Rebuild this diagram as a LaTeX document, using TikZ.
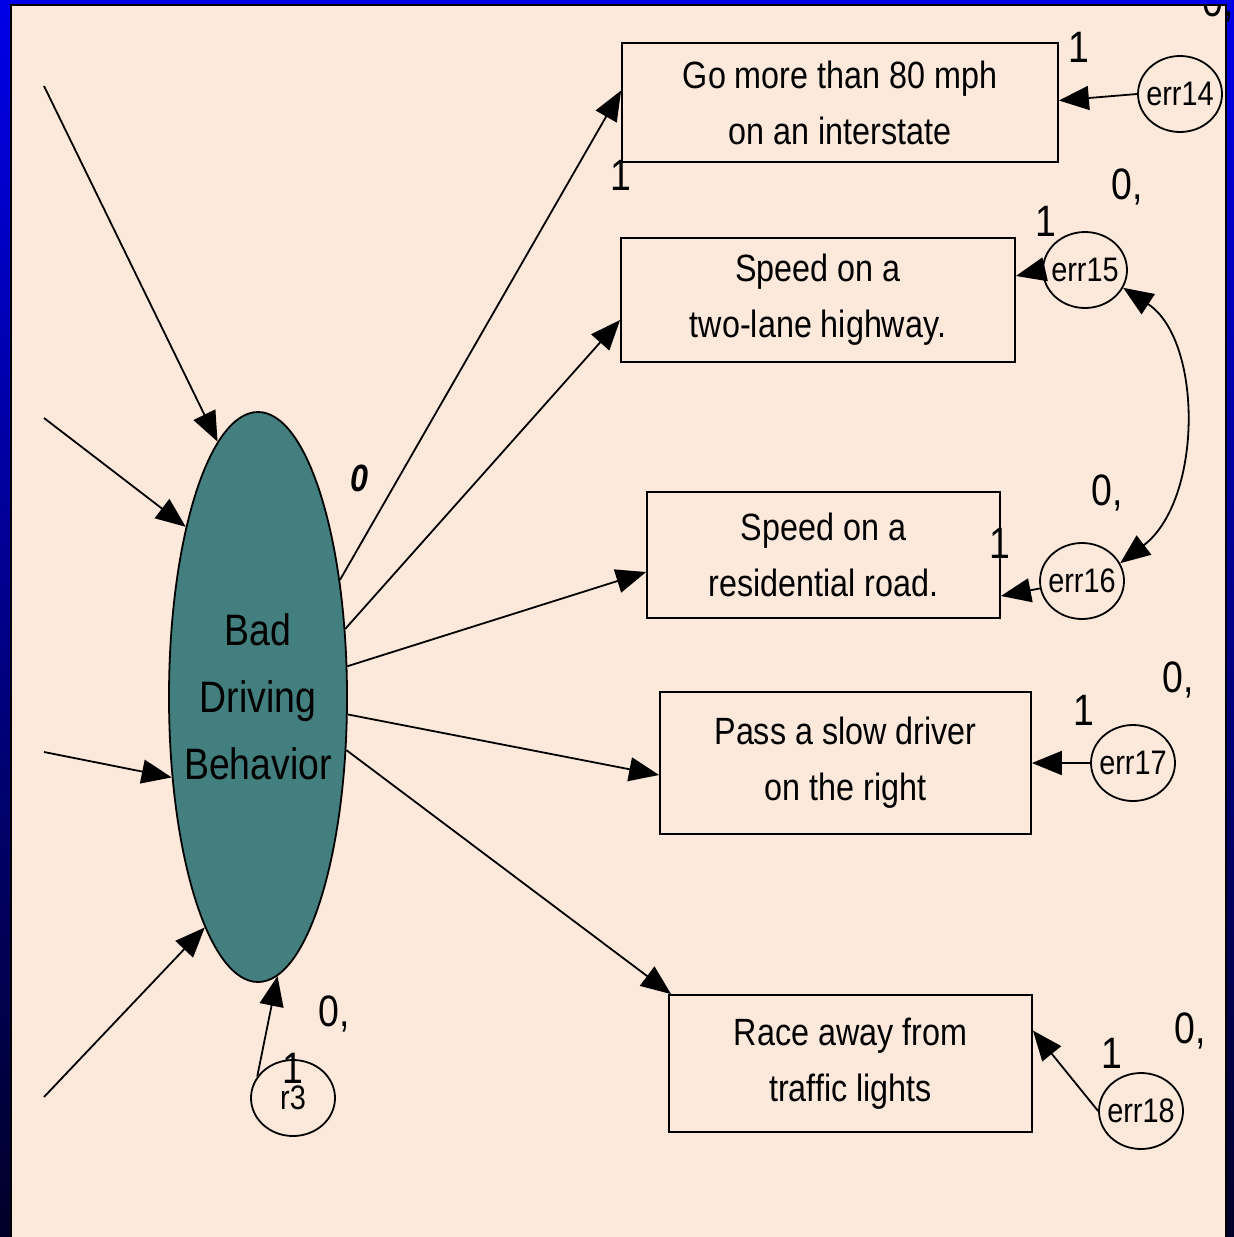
\documentclass[tikz,border=0pt]{standalone}
\usepackage{fontspec}
\setmainfont{Liberation Sans}[FakeStretch=0.85]
\usetikzlibrary{shapes.geometric,arrows.meta,calc}
\definecolor{peach}{RGB}{252,233,219}
\definecolor{teal}{RGB}{66,127,126}
\definecolor{topblue}{RGB}{0,0,232}
\definecolor{botblue}{RGB}{0,0,40}
\tikzset{
  box/.style={draw,line width=1.8pt,fill=peach,inner sep=0pt,align=center,
    font=\fontsize{38}{56}\selectfont},
  errnode/.style={draw,ellipse,line width=1.8pt,fill=peach,inner sep=0pt,
    minimum width=84pt,minimum height=76pt},
  errtext/.style={inner sep=0pt,font=\fontsize{34}{34}\selectfont},
  lab/.style={font=\fontsize{44}{44}\selectfont,inner sep=0pt},
  conn/.style={line width=1.8pt,-{Triangle[length=30pt,width=24pt]}},
}
\begin{document}
\begin{tikzpicture}[x=1pt,y=-1pt]
\useasboundingbox (0,0) rectangle (1234,1237);
% background and frame
\fill[peach] (0,0) rectangle (1234,1237);
\shade[top color=topblue,bottom color=botblue] (0,0) rectangle (10,1237);
\shade[top color=topblue,bottom color=botblue] (1227,0) rectangle (1234,1237);
\draw[line width=1.8pt] (11,1237) -- (11,5) -- (1226,5) -- (1226,1237);
% clipped top label
\node[lab] (ltop) at (1218,4) {0,};
\fill[topblue] (0,0) rectangle (1234,4);

% latent
\node[draw,ellipse,line width=1.8pt,fill=teal,minimum width=178pt,minimum height=570pt,
  inner sep=0pt] (bdb) at (258,697) {};
\node[inner sep=0pt,align=center,font=\fontsize{44}{67}\selectfont] (bdbt) at (bdb.center)
  {Bad\\Driving\\Behavior};

% boxes
\node[box,minimum width=436pt,minimum height=119pt] (b1) at (840,102.5) {Go more than 80 mph\\on an interstate};
\node[box,minimum width=394pt,minimum height=124pt] (b2) at (818,300) {Speed on a\\two-lane highway.};
\node[box,minimum width=353pt,minimum height=126pt] (b3) at (823.5,555) {Speed on a\\residential road.};
\node[box,minimum width=371pt,minimum height=142pt] (b4) at (845.5,763) {Pass a slow driver\\on the right};
\node[box,minimum width=363pt,minimum height=137pt] (b5) at (850.5,1063.5) {Race away from\\traffic lights};

% error terms
\node[errnode] (e14) at (1180,94) {};
\node[errnode] (e15) at (1085,270) {};
\node[errnode] (e16) at (1082,581) {};
\node[errnode] (e17) at (1133,763) {};
\node[errnode] (e18) at (1141,1111) {};
\node[errnode] (r3) at (293,1098) {};
\node[errtext] (t14) at (e14.center) {err14};
\node[errtext] (t15) at (e15.center) {err15};
\node[errtext] (t16) at (e16.center) {err16};
\node[errtext] (t17) at (e17.center) {err17};
\node[errtext] (t18) at (e18.center) {err18};
\node[errtext] (tr3) at (r3.center) {r3};

% free ends on the left
\coordinate (s1) at (44,86);
\coordinate (s2) at (44,418);
\coordinate (s3) at (44,752);
\coordinate (s4) at (44,1097);

% incoming to latent
\draw[conn] (s1) -- (bdb.99.4);
\draw[conn] (s2) -- (bdb.113.4);
\draw[conn] (s3) -- (bdb.223.3);
\draw[conn] (s4) -- (bdb.257.2);
\draw[conn] (r3.149) -- (bdb.274.1);

% latent to indicators
\draw[conn] (bdb.55.6) -- ([yshift=12pt]b1.west);
\draw[conn] (bdb.38.5) -- ([yshift=-20pt]b2.west);
\draw[conn] (bdb.19) -- ([yshift=-17pt]b3.west);
\draw[conn] (bdb.-11.2) -- ([yshift=-12pt]b4.west);
\draw[conn] (bdb.-31.7) -- ([xshift=3pt]b5.north west);

% errors to indicators
\draw[conn] (e14.west) -- ([yshift=2pt]b1.east);
\draw[conn] (e15.west) -- ([yshift=24pt]b2.east);
\draw[conn] (e16.190) -- ([yshift=-41pt]b3.east);
\draw[conn] (e17.west) -- (b4.east);
\draw[conn] (e18.west) -- ([yshift=33pt]b5.east);

% covariance
\draw[line width=1.8pt,{Triangle[length=30pt,width=24pt]}-{Triangle[length=30pt,width=24pt]}]
  (e15.-25) .. controls (1203,340) and (1203,500) .. (e16.25);

% labels
\node[font=\fontsize{38}{38}\selectfont\bfseries\itshape,inner sep=0pt] (zero) at (359,478) {0};
\node[lab] (l0a) at (334,1014) {0,};
\node[lab] (l1a) at (293,1068) {1};
\node[lab] (l1b) at (1079,47) {1};
\node[lab] (l1c) at (621,175) {1};
\node[lab] (l0b) at (1127,187) {0,};
\node[lab] (l1d) at (1046,221) {1};
\node[lab] (l0c) at (1107,493) {0,};
\node[lab] (l1e) at (1000,543) {1};
\node[lab] (l0d) at (1178,680) {0,};
\node[lab] (l1f) at (1084,710) {1};
\node[lab] (l0e) at (1190,1031) {0,};
\node[lab] (l1g) at (1112,1053) {1};
\end{tikzpicture}
\end{document}
